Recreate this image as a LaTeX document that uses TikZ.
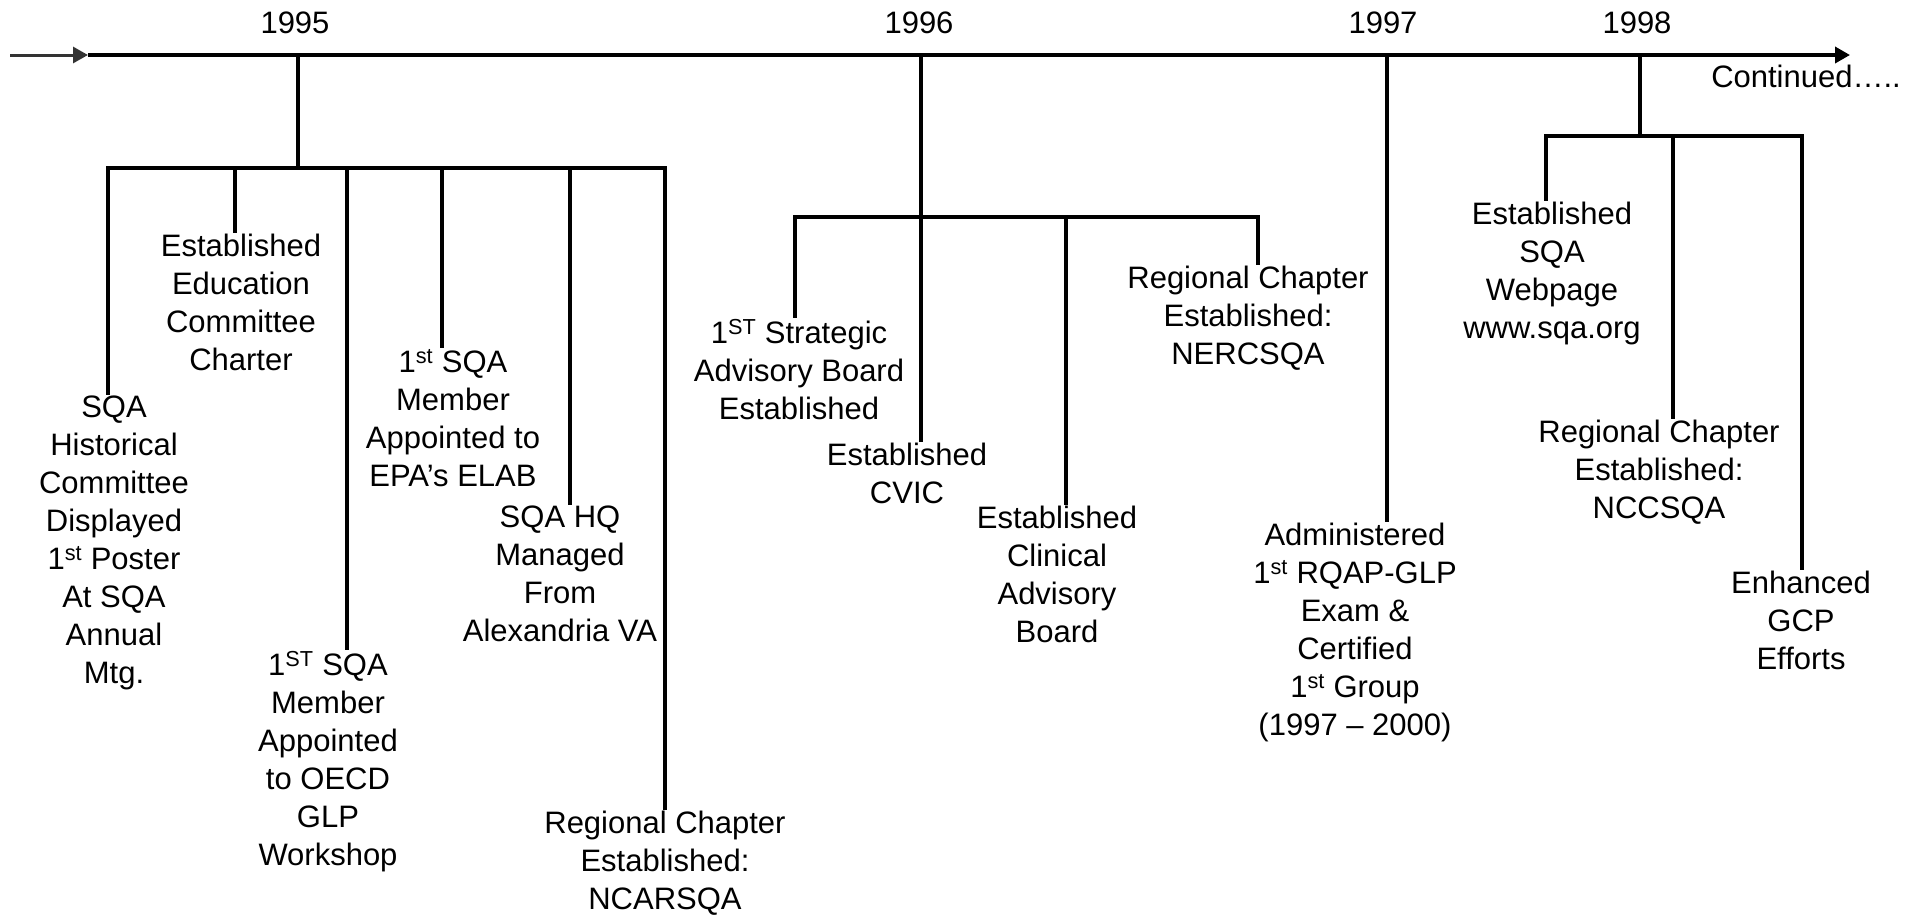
\documentclass[tikz,border=0pt]{standalone}
\usepackage{fontspec}
\setmainfont{Liberation Sans}
\usetikzlibrary{arrows.meta}
\begin{document}
\begin{tikzpicture}[x=1pt,y=-1pt,
  txt/.style={font=\fontsize{31}{38}\selectfont, align=center, anchor=north, inner sep=3pt},
  yr/.style={font=\fontsize{31}{36}\selectfont, inner sep=0pt},
  ln/.style={line width=3.5pt, black, line cap=rect},
  tip/.style={-{Triangle[length=15pt,width=16pt]}},
]
\useasboundingbox (0,0) rectangle (1921,914);
% timeline
\coordinate (s0) at (10,55);
\coordinate (s1) at (88,55);
\coordinate (s2) at (1850,55);
\draw[line width=3pt, black!80, tip] (s0) -- (s1);
\draw[line width=3.5pt, black, tip] (s1) -- (s2);
% years
\node[yr] (y95) at (295,23) {1995};
\node[yr] (y96) at (919,23) {1996};
\node[yr] (y97) at (1383,23) {1997};
\node[yr] (y98) at (1637,23) {1998};
\node[yr, anchor=east] (cont) at (1901,76) {Continued…..};
% texts 1995
\node[txt] (A) at (114,393) {SQA\\Historical\\Committee\\Displayed\\1\textsuperscript{st} Poster\\At SQA\\Annual\\Mtg.};
\node[txt] (B) at (241,231) {Established\\Education\\Committee\\Charter};
\node[txt] (C) at (328,648) {1\textsuperscript{ST} SQA\\Member\\Appointed\\to OECD\\GLP\\Workshop};
\node[txt] (D) at (453,346) {1\textsuperscript{st} SQA\\Member\\Appointed to\\EPA’s ELAB};
\node[txt] (E) at (560,503) {SQA HQ\\Managed\\From\\Alexandria VA};
\node[txt] (F) at (665,808) {Regional Chapter\\Established:\\NCARSQA};
% texts 1996
\node[txt] (G) at (799,316) {1\textsuperscript{ST} Strategic\\Advisory Board\\Established};
\node[txt] (H) at (907,440) {Established\\CVIC};
\node[txt] (I) at (1057,503) {Established\\Clinical\\Advisory\\Board};
\node[txt] (J) at (1248,263) {Regional Chapter\\Established:\\NERCSQA};
% 1997
\node[txt] (K) at (1355,520) {Administered\\1\textsuperscript{st} RQAP-GLP\\Exam \&\\Certified\\1\textsuperscript{st} Group\\(1997 – 2000)};
% 1998
\node[txt] (L) at (1552,199) {Established\\SQA\\Webpage\\www.sqa.org};
\node[txt] (M) at (1659,417) {Regional Chapter\\Established:\\NCCSQA};
\node[txt] (N) at (1801,568) {Enhanced\\GCP\\Efforts};
% 1995 tree
\coordinate (t95) at (298,55);
\coordinate (b95) at (298,168);
\coordinate (b95a) at (108,168);
\coordinate (b95b) at (235,168);
\coordinate (b95c) at (347,168);
\coordinate (b95d) at (442,168);
\coordinate (b95e) at (570,168);
\coordinate (b95f) at (665,168);
\draw[ln] (t95) -- (b95);
\draw[ln] (b95a) -- (b95f);
\draw[ln] (b95a) -- (b95a |- A.north);
\draw[ln] (b95b) -- (b95b |- B.north);
\draw[ln] (b95c) -- (b95c |- C.north);
\draw[ln] (b95d) -- (b95d |- D.north);
\draw[ln] (b95e) -- (b95e |- E.north);
\draw[ln] (b95f) -- (b95f |- F.north);
% 1996 tree
\coordinate (t96) at (921,55);
\coordinate (b96) at (921,217);
\coordinate (b96g) at (795,217);
\coordinate (b96i) at (1066,217);
\coordinate (b96j) at (1258,217);
\draw[ln] (t96) -- (t96 |- H.north);
\draw[ln] (b96g) -- (b96j);
\draw[ln] (b96g) -- (b96g |- G.north);
\draw[ln] (b96i) -- (b96i |- I.north);
\draw[ln] (b96j) -- (b96j |- J.north);
% 1997
\coordinate (t97) at (1387,55);
\draw[ln] (t97) -- (t97 |- K.north);
% 1998 tree
\coordinate (t98) at (1640,55);
\coordinate (b98) at (1640,136);
\coordinate (b98l) at (1546,136);
\coordinate (b98m) at (1673,136);
\coordinate (b98n) at (1802,136);
\draw[ln] (t98) -- (b98);
\draw[ln] (b98l) -- (b98n);
\draw[ln] (b98l) -- (b98l |- L.north);
\draw[ln] (b98m) -- (b98m |- M.north);
\draw[ln] (b98n) -- (b98n |- N.north);
\end{tikzpicture}
\end{document}
